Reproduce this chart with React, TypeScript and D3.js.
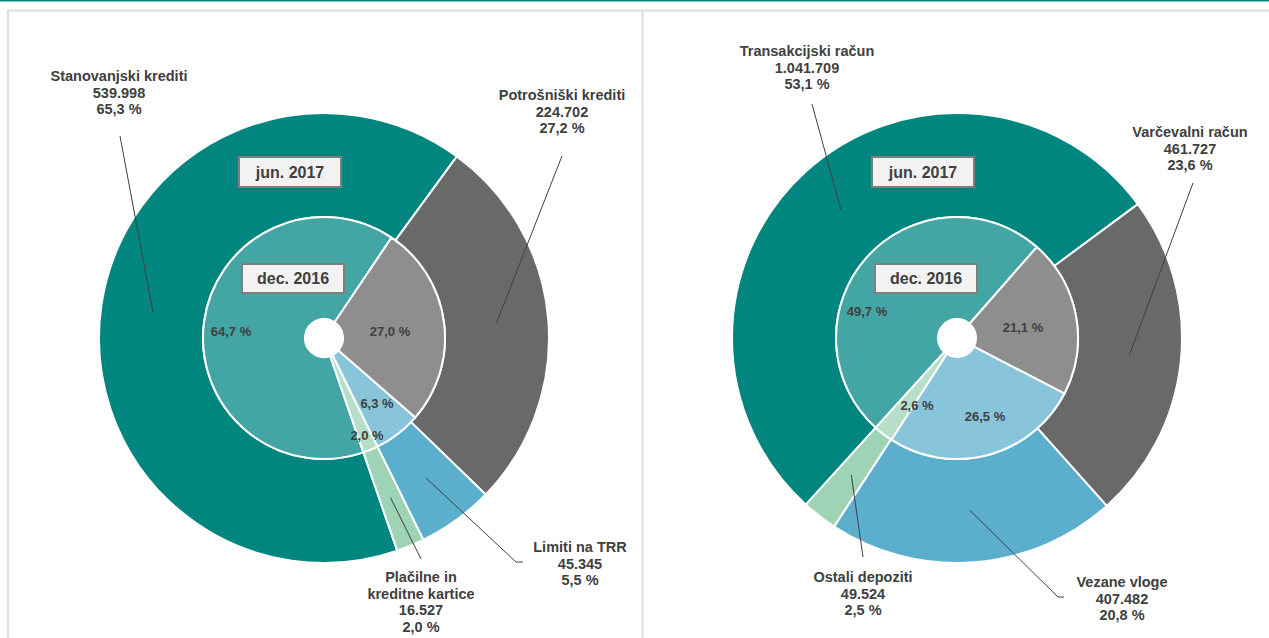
import React from "react";
import * as d3 from "d3";

// ---------- DATA ----------
const leftCategories = ["Stanovanjski krediti", "Potrošniški krediti", "Limiti na TRR", "Plačilne in kreditne kartice"];
const leftValues = [539998, 224702, 45345, 16527];
const leftOuterPct = [65.3, 27.2, 5.5, 2.0];
const leftInnerPct = [64.7, 27.0, 6.3, 2.0];

const rightCategories = ["Transakcijski račun", "Varčevalni račun", "Vezane vloge", "Ostali depoziti"];
const rightValues = [1041709, 461727, 407482, 49524];
const rightOuterPct = [53.1, 23.6, 20.8, 2.5];
const rightInnerPct = [49.7, 21.1, 26.5, 2.6];

const outerPeriod = "jun. 2017";
const innerPeriod = "dec. 2016";

// ---------- STYLE / LAYOUT ----------
const W = 1269;
const H = 638;
const outerColors = ["#00857F", "#696969", "#5BAFCD", "#9FD3B5"];
const innerColors = ["#43A5A4", "#8E8E8E", "#88C4DA", "#B6DEC9"];
const textColor = "#404040";
const FONT = "'Liberation Sans', Arial, Helvetica, sans-serif";
const R_HOLE = 19;
const R_INNER = 121;
const R_OUTER = 225;

const locale = d3.formatLocale({ decimal: ",", thousands: ".", grouping: [3], currency: ["", ""] });
const fmtNum = locale.format(",d");
const fmtPct = (v: number) => v.toFixed(1).replace(".", ",") + " %";

type LabelLayout = { x: number; y: number; nameLines: string[]; path: [number, number][] };

const leftLayout = {
  cx: 324,
  cy: 338,
  start: 161,
  innerOffsets: [[-93, -7], [66, -7], [53, 65], [43, 97]],
  labels: [
    { x: 119, y: 76, nameLines: ["Stanovanjski krediti"], path: [[120, 136]] },
    { x: 562, y: 95, nameLines: ["Potrošniški krediti"], path: [[562, 156]] },
    { x: 580, y: 547, nameLines: ["Limiti na TRR"], path: [[516, 562], [523, 562]] },
    { x: 421, y: 577, nameLines: ["Plačilne in", "kreditne kartice"], path: [[421, 559]] },
  ] as LabelLayout[],
};

const rightLayout = {
  cx: 957,
  cy: 338,
  start: 222.2,
  innerOffsets: [[-90, -27], [66, -11], [28, 78], [-40, 67]],
  labels: [
    { x: 807, y: 51, nameLines: ["Transakcijski račun"], path: [[812, 104]] },
    { x: 1190, y: 132, nameLines: ["Varčevalni račun"], path: [[1193, 183]] },
    { x: 1122, y: 582, nameLines: ["Vezane vloge"], path: [[1058, 597], [1064, 597]] },
    { x: 863, y: 577, nameLines: ["Ostali depoziti"], path: [[863, 557]] },
  ] as LabelLayout[],
};

function Donut(props: {
  values: number[];
  outerPct: number[];
  innerPct: number[];
  layout: typeof leftLayout;
}) {
  const { values, outerPct, innerPct, layout } = props;
  const { cx, cy, start } = layout;
  const a0 = (start * Math.PI) / 180;
  const pie = d3.pie<number>().sort(null).value((d) => d).startAngle(a0).endAngle(a0 + 2 * Math.PI);
  const outerArcs = pie(values);
  const innerArcs = pie(innerPct);
  const outerArc = d3.arc<d3.PieArcDatum<number>>().innerRadius(R_INNER).outerRadius(R_OUTER);
  const innerArc = d3.arc<d3.PieArcDatum<number>>().innerRadius(R_HOLE).outerRadius(R_INNER);
  const line = d3.line();

  return (
    <g>
      <g transform={`translate(${cx},${cy})`}>
        {outerArcs.map((a, i) => (
          <path key={"o" + i} d={outerArc(a) || ""} fill={outerColors[i]} stroke="#fff" strokeWidth={2} strokeLinejoin="round" />
        ))}
        {innerArcs.map((a, i) => (
          <path key={"i" + i} d={innerArc(a) || ""} fill={innerColors[i]} stroke="#fff" strokeWidth={2} strokeLinejoin="round" />
        ))}
        <circle r={R_HOLE} fill="#fff" />
        {innerArcs.map((a, i) => (
          <text
            key={"t" + i}
            x={layout.innerOffsets[i][0]}
            y={layout.innerOffsets[i][1]}
            textAnchor="middle"
            dominantBaseline="central"
            fontFamily={FONT}
            fontWeight="bold"
            fontSize={13}
            fill={textColor}
          >
            {fmtPct(innerPct[i])}
          </text>
        ))}
        {/* period boxes */}
        <rect x={-85} y={-181} width={102} height={30} fill="#F2F2F2" stroke="#7F7F7F" strokeWidth={2} />
        <text x={-34} y={-166} textAnchor="middle" dominantBaseline="central" fontFamily={FONT} fontWeight="bold" fontSize={16} fill={textColor}>
          {outerPeriod}
        </text>
        <rect x={-82} y={-74} width={102} height={29} fill="#F2F2F2" stroke="#7F7F7F" strokeWidth={2} />
        <text x={-31} y={-59.5} textAnchor="middle" dominantBaseline="central" fontFamily={FONT} fontWeight="bold" fontSize={16} fill={textColor}>
          {innerPeriod}
        </text>
      </g>
      {outerArcs.map((a, i) => {
        const c = outerArc.centroid(a);
        const pts: [number, number][] = [[cx + c[0], cy + c[1]], ...layout.labels[i].path];
        return <path key={"l" + i} d={line(pts) || ""} fill="none" stroke={textColor} strokeWidth={1} />;
      })}
      {layout.labels.map((lb, i) => {
        const lines = [...lb.nameLines, fmtNum(values[i]), fmtPct(outerPct[i])];
        return (
          <text key={"lab" + i} textAnchor="middle" fontFamily={FONT} fontWeight="bold" fontSize={14.5} fill={textColor}>
            {lines.map((s, j) => (
              <tspan key={j} x={lb.x} y={lb.y + j * 16.7} dominantBaseline="central">
                {s}
              </tspan>
            ))}
          </text>
        );
      })}
    </g>
  );
}

export default function App() {
  return (
    <svg width={W} height={H} style={{ position: "absolute", left: 0, top: 0, background: "#fff" }}>
      <rect x={0} y={0} width={W} height={H} fill="#fff" />
      <rect x={0} y={0} width={W} height={1.5} fill="#00857F" />
      <line x1={7} y1={10.5} x2={W} y2={10.5} stroke="#DEDEDE" strokeWidth={2} />
      <line x1={8} y1={10} x2={8} y2={H} stroke="#DEDEDE" strokeWidth={2} />
      <line x1={642.5} y1={10} x2={642.5} y2={H} stroke="#DEDEDE" strokeWidth={2} />
      <Donut values={leftValues} outerPct={leftOuterPct} innerPct={leftInnerPct} layout={leftLayout} />
      <Donut values={rightValues} outerPct={rightOuterPct} innerPct={rightInnerPct} layout={rightLayout as typeof leftLayout} />
      <title>{leftCategories.concat(rightCategories).join(", ")}</title>
    </svg>
  );
}
